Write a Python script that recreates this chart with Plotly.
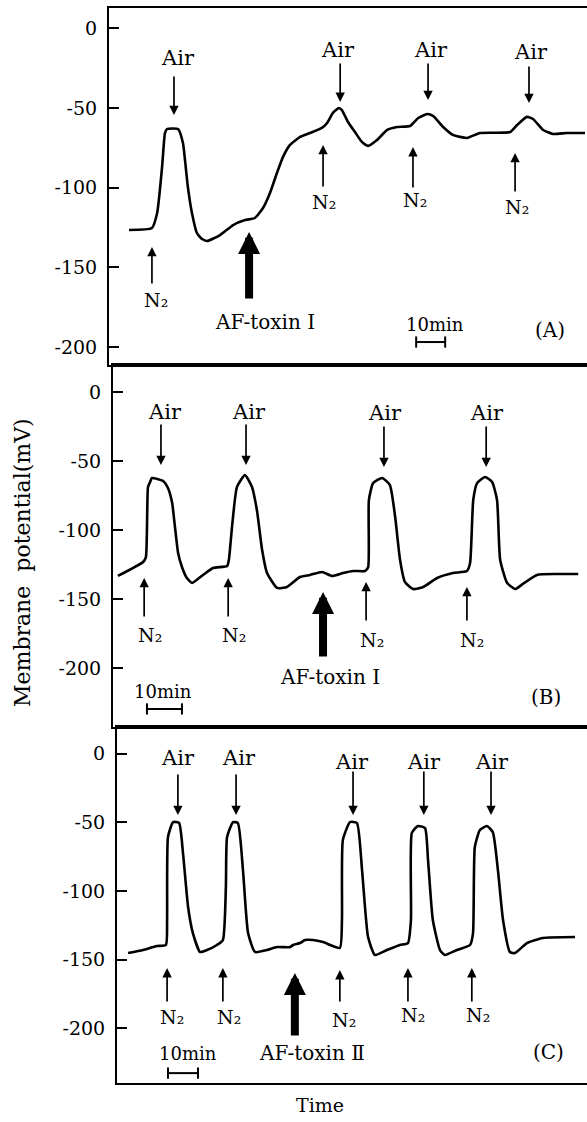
import plotly.graph_objects as go

# ---------------- data (time in min, membrane potential in mV) ----------------
A_t = [6.9, 14.8, 16.6, 18.3, 19.3, 20.0, 23.8, 25.5, 26.2, 27.2, 28.6, 30.3, 32.1, 33.8,
       38.3, 42.8, 46.9, 50.3, 53.1, 55.5, 57.9, 60.0, 62.4, 65.9, 69.3, 73.4, 75.2, 77.2,
       79.3, 80.3, 82.4, 84.8, 87.2, 89.3, 92.4, 95.9, 99.3, 103.8, 106.6, 109.7, 111.7,
       115.2, 118.6, 123.4, 127.9, 138.3, 140.7, 144.1, 146.2, 149.7, 153.1, 157.9, 164.1]
A_mv = [-126.5, -125.3, -115.9, -87.0, -65.7, -63.2, -63.2, -72.0, -82.6, -99.6, -115.9,
        -128.4, -132.2, -133.4, -129.7, -123.4, -120.3, -119.0, -112.7, -103.3, -90.8, -80.7,
        -73.2, -68.2, -65.7, -62.5, -59.4, -53.1, -50.0, -51.3, -58.8, -65.1, -71.3, -73.8,
        -70.1, -63.8, -61.9, -61.3, -56.3, -53.8, -55.0, -61.9, -66.9, -68.8, -65.7, -65.1,
        -60.7, -55.6, -56.9, -63.8, -66.3, -65.7, -65.7]

B_t = [1.4, 8.6, 9.4, 10.0, 10.6, 11.1, 14.3, 15.7, 16.9, 17.7, 18.6, 19.7, 21.1, 22.6,
       25.7, 28.6, 32.6, 33.1, 34.0, 35.4, 37.7, 39.7, 41.1, 42.6, 44.0, 46.9, 49.7, 53.4,
       56.3, 59.7, 62.6, 65.7, 68.6, 72.0, 72.9, 73.1, 74.3, 76.9, 79.1, 80.6, 82.0, 83.4,
       85.7, 88.6, 92.6, 97.1, 101.1, 102.0, 102.9, 104.0, 106.3, 108.3, 109.7, 110.6,
       112.6, 114.9, 117.1, 121.1, 126.9, 132.9]
B_mv = [-133.0, -122.9, -119.3, -68.6, -64.9, -62.0, -64.2, -69.3, -80.2, -97.5, -116.4,
        -126.5, -134.5, -138.1, -132.3, -127.2, -125.8, -121.4, -97.5, -68.6, -59.9, -68.6,
        -85.2, -114.2, -130.9, -141.7, -141.0, -133.8, -132.3, -130.1, -133.0, -130.9,
        -129.4, -129.4, -126.5, -78.0, -65.7, -62.0, -67.1, -90.3, -121.4, -137.4, -142.5,
        -141.0, -134.5, -130.9, -129.4, -123.6, -78.0, -65.7, -61.3, -64.9, -78.0, -121.4,
        -138.1, -142.5, -138.8, -132.3, -131.6, -131.6]

C_t = [3.7, 8.7, 13.3, 16.3, 16.7, 17.0, 18.7, 20.7, 22.0, 23.7, 25.3, 27.7, 30.0, 33.3,
       35.3, 36.3, 36.7, 38.7, 40.3, 42.0, 43.7, 46.0, 50.0, 53.3, 57.7, 58.7, 61.0, 62.7,
       65.3, 68.7, 74.3, 75.0, 75.3, 77.7, 80.0, 81.7, 83.7, 86.0, 90.0, 94.3, 97.0, 98.0,
       98.3, 100.3, 102.7, 103.7, 105.3, 107.7, 109.3, 113.3, 117.7, 118.7, 119.3, 121.0,
       123.3, 125.3, 127.0, 128.7, 131.0, 132.7, 136.7, 142.0, 152.7]
C_mv = [-145.3, -143.1, -140.2, -139.4, -121.2, -60.7, -49.8, -50.5, -72.4, -111.7, -130.7,
        -144.5, -143.1, -139.4, -135.8, -97.2, -60.7, -49.8, -50.5, -84.8, -130.7, -144.5,
        -143.1, -140.9, -140.9, -139.4, -138.0, -135.8, -135.8, -137.3, -141.6, -121.2,
        -62.9, -49.8, -50.5, -84.8, -133.6, -146.7, -143.1, -139.4, -138.0, -121.2, -57.7,
        -52.7, -54.2, -77.4, -121.2, -143.1, -146.7, -143.1, -139.4, -130.7, -68.0, -55.6,
        -52.7, -57.1, -84.8, -121.2, -144.5, -145.3, -138.0, -134.3, -133.6]

TICK_VALS = [0, -50, -100, -150, -200]
TICK_TEXT = ["0", "-50", "-100", "-150", "-200"]
SCALE_MIN = 10

# event markers (time, arrow tail mV, arrow tip mV, label mV, label time)
A_air = [(22.4, -29.3, -54.4, -18.6, 23.8), (79.7, -21.1, -46.2, -13.6, 79.0),
         (110.0, -21.1, -45.0, -13.6, 111.0), (144.8, -23.0, -46.9, -14.9, 145.5)]
A_n2 = [(14.8, -161.0, -137.2, -170.5, 16.2), (73.8, -100.2, -73.2, -109.0, 74.1),
        (104.8, -100.8, -74.5, -107.7, 105.5), (140.0, -103.3, -78.2, -112.1, 140.7)]
B_air = [(13.7, -22.2, -52.6, -14.2, 14.9), (38.0, -22.2, -52.6, -14.2, 38.9),
         (77.4, -23.6, -54.1, -14.9, 77.7), (106.6, -23.6, -54.1, -14.9, 106.9)]
B_n2 = [(8.9, -163.5, -134.5, -175.8, 10.6), (32.9, -163.5, -134.5, -175.8, 34.6),
        (72.3, -166.4, -137.4, -179.4, 74.0), (101.1, -166.4, -141.0, -179.4, 102.6)]
C_air = [(20.3, -14.1, -44.7, -3.1, 20.3), (39.7, -14.1, -44.7, -3.1, 40.7),
         (78.7, -11.9, -44.7, -6.1, 78.3), (102.3, -11.9, -44.7, -6.1, 102.3),
         (124.7, -11.9, -44.7, -6.1, 125.0)]
C_n2 = [(16.7, -181.7, -156.2, -191.9, 18.3), (35.3, -181.7, -156.2, -191.9, 37.3),
        (74.3, -181.7, -157.7, -194.1, 75.7), (97.0, -181.7, -156.2, -190.5, 98.7),
        (118.3, -181.7, -156.2, -190.5, 120.3)]

FONT = "DejaVu Serif"

fig = go.Figure()

panels = [
    dict(t=A_t, mv=A_mv, xa="x", ya="y", xr=[0, 164.8], yr=[-211.2, 12.7],
         xd=[109 / 587, 1], yd=[1 - 365 / 1122, 1 - 8 / 1122],
         air=A_air, n2=A_n2, tox=(48.3, -170.5, -127.8), toxlab=(53.8, -184.3, "AF-toxin Ⅰ"),
         bar=(105.9, -196.8), barlab=(112.4, -186.1), tag=(152.1, -189.3, "(A)")),
    dict(t=B_t, mv=B_mv, xa="x2", ya="y2", xr=[0, 135.4], yr=[-242.5, 19.9],
         xd=[113 / 587, 1], yd=[1 - 727 / 1122, 1 - 365 / 1122],
         air=B_air, n2=B_n2, tox=(60.0, -192.5, -144.6), toxlab=(62.0, -206.2, "AF-toxin Ⅰ"),
         bar=(9.7, -229.4), barlab=(14.3, -217.1), tag=(123.7, -220.7, "(B)")),
    dict(t=C_t, mv=C_mv, xa="x3", ya="y3", xr=[0, 156.7], yr=[-240.0, 19.5],
         xd=[117 / 587, 1], yd=[1 - 1083 / 1122, 1 - 727 / 1122],
         air=C_air, n2=C_n2, tox=(59.3, -206.5, -159.8), toxlab=(65.0, -218.2, "AF-toxin Ⅱ"),
         bar=(17.0, -232.8), barlab=(23.7, -218.2), tag=(143.7, -217.5, "(C)")),
]

annotations = []


def txt(xa, ya, x, y, s, size):
    return dict(x=x, y=y, xref=xa, yref=ya, text=s, showarrow=False,
                xanchor="center", yanchor="middle",
                font=dict(family=FONT, size=size, color="black"))


def arr(xa, ya, x, y0, y1, w, head, size):
    return dict(x=x, y=y1, ax=x, ay=y0, xref=xa, yref=ya, axref=xa, ayref=ya, text="",
                showarrow=True, arrowhead=head, arrowsize=size, arrowwidth=w,
                arrowcolor="black", standoff=0, startstandoff=0)


layout_axes = {}
for i, p in enumerate(panels):
    fig.add_trace(go.Scatter(x=p["t"], y=p["mv"], mode="lines", xaxis=p["xa"], yaxis=p["ya"],
                             line=dict(color="black", width=2.6, shape="spline", smoothing=0.5),
                             hoverinfo="skip", showlegend=False))
    bx, by = p["bar"]
    fig.add_trace(go.Scatter(x=[bx, bx + SCALE_MIN], y=[by, by], mode="lines+markers",
                             xaxis=p["xa"], yaxis=p["ya"],
                             line=dict(color="black", width=2),
                             marker=dict(symbol="line-ns-open", size=8,
                                         line=dict(width=2, color="black")),
                             hoverinfo="skip", showlegend=False))
    for (x, y0, y1, yl, xl) in p["air"]:
        annotations.append(arr(p["xa"], p["ya"], x, y0, y1, 1.7, 2, 1.1))
        annotations.append(txt(p["xa"], p["ya"], xl, yl, "Air", 21))
    for (x, y0, y1, yl, xl) in p["n2"]:
        annotations.append(arr(p["xa"], p["ya"], x, y0, y1, 1.7, 2, 1.1))
        annotations.append(txt(p["xa"], p["ya"], xl, yl, "N₂", 19))
    tx, ty0, ty1 = p["tox"]
    annotations.append(arr(p["xa"], p["ya"], tx, ty0, ty1, 8, 2, 0.55))
    lx, ly, ls = p["toxlab"]
    annotations.append(txt(p["xa"], p["ya"], lx, ly, ls, 20))
    blx, bly = p["barlab"]
    annotations.append(txt(p["xa"], p["ya"], blx, bly, "10min", 18))
    gx, gy, gs = p["tag"]
    annotations.append(txt(p["xa"], p["ya"], gx, gy, gs, 20))

    suffix = "" if i == 0 else str(i + 1)
    layout_axes["xaxis" + suffix] = dict(
        domain=p["xd"], range=p["xr"], anchor=p["ya"], showline=True, mirror=True,
        linewidth=2, linecolor="black", showticklabels=False, ticks="", showgrid=False,
        zeroline=False, fixedrange=True)
    layout_axes["yaxis" + suffix] = dict(
        domain=p["yd"], range=p["yr"], anchor=p["xa"], showline=True, linewidth=2,
        linecolor="black", tickvals=TICK_VALS, ticktext=TICK_TEXT, ticks="inside",
        ticklen=10, tickwidth=2, tickcolor="black", showgrid=False, zeroline=False,
        ticklabelstandoff=6, tickfont=dict(family=FONT, size=19, color="black"),
        fixedrange=True)

annotations.append(dict(x=22 / 587, y=1 - 563 / 1122, xref="paper", yref="paper",
                        xanchor="center", yanchor="middle",
                        text="Membrane  potential(mV)", textangle=-90, showarrow=False,
                        font=dict(family=FONT, size=22, color="black")))
annotations.append(dict(x=320 / 587, y=1 - 1105 / 1122, xref="paper", yref="paper",
                        xanchor="center", yanchor="middle",
                        text="Time", showarrow=False,
                        font=dict(family=FONT, size=19, color="black")))

fig.update_layout(width=587, height=1122, margin=dict(l=0, r=0, t=0, b=0),
                  paper_bgcolor="white", plot_bgcolor="white",
                  annotations=annotations, **layout_axes)

fig.write_html("out.html")
